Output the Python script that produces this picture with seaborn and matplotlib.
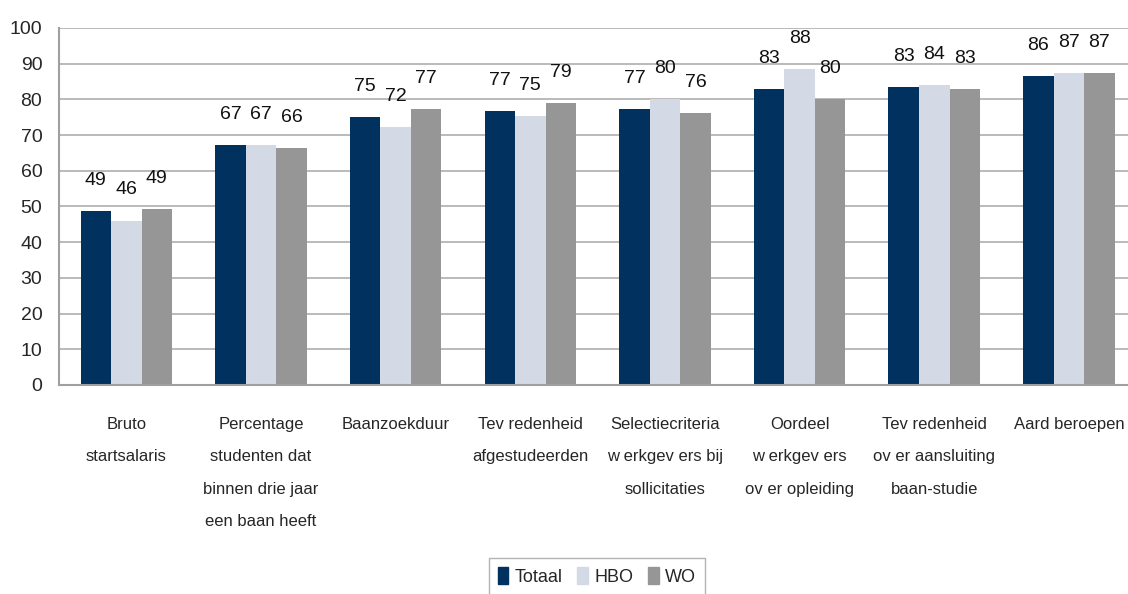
import pandas as pd
import seaborn as sns
import matplotlib.pyplot as plt

# categorieën en waarden
categories = [
    "Bruto\nstartsalaris",
    "Percentage\nstudenten dat\nbinnen drie jaar\neen baan heeft",
    "Baanzoekduur",
    "Tev redenheid\nafgestudeerden",
    "Selectiecriteria\nw erkgev ers bij\nsollicitaties",
    "Oordeel\nw erkgev ers\nov er opleiding",
    "Tev redenheid\nov er aansluiting\nbaan-studie",
    "Aard beroepen",
]
totaal = [48.7, 67.1, 75.1, 76.7, 77.3, 82.8, 83.4, 86.4]
hbo = [46.0, 67.1, 72.3, 75.4, 80.1, 88.4, 84.0, 87.4]
wo = [49.3, 66.4, 77.3, 79.0, 76.1, 80.1, 82.8, 87.3]
series = ["Totaal", "HBO", "WO"]
colors = ["#00315f", "#d3dae5", "#969696"]

df = pd.DataFrame({"categorie": categories, "Totaal": totaal, "HBO": hbo, "WO": wo})
df = df.melt(id_vars="categorie", var_name="groep", value_name="score")

sns.set_style("white")
plt.rcParams["font.family"] = ["Liberation Sans", "DejaVu Sans"]

fig = plt.figure(figsize=(11.28, 5.94), dpi=100)
ax = fig.add_axes([0.0523, 0.352, 0.955, 0.601])

sns.barplot(data=df, x="categorie", y="score", hue="groep", hue_order=series,
            palette=colors, saturation=1, width=0.68, linewidth=0, ax=ax)

# datalabels boven de staven
for cont in ax.containers:
    ax.bar_label(cont, labels=[f"{b.get_height():.0f}" for b in cont],
                 padding=16, fontsize=14, color="#111111")

ax.set_ylim(0, 100)
ax.set_xlim(-0.5, 7.5)
ax.set_yticks(range(0, 101, 10))
ax.yaxis.grid(True, color="#b4b4b4", linewidth=1.3)
ax.set_axisbelow(True)
ax.set_xlabel("")
ax.set_ylabel("")

for s in ["top", "right"]:
    ax.spines[s].set_visible(False)
for s in ["left", "bottom"]:
    ax.spines[s].set_color("#a0a0a0")
    ax.spines[s].set_linewidth(1.5)

ax.tick_params(axis="y", length=6, color="#a0a0a0", width=1.2, labelsize=14, pad=6)
ax.tick_params(axis="x", length=0, labelsize=12, pad=23)
for lbl in ax.get_xticklabels():
    lbl.set_linespacing(2.45)
    lbl.set_va("top")

ax.legend_.remove()
handles = [plt.Rectangle((0, 0), 1, 1, color=c) for c in colors]
leg = fig.legend(handles, series, loc="upper center", bbox_to_anchor=(0.529, 0.06),
                 ncol=3, frameon=True, fancybox=False, fontsize=13,
                 handlelength=0.6, handleheight=1.0, handletextpad=0.35,
                 columnspacing=0.8, borderpad=0.5, borderaxespad=0)
leg.get_frame().set_edgecolor("#a0a0a0")
leg.get_frame().set_linewidth(1.0)

fig.savefig("out.png", dpi=100)
